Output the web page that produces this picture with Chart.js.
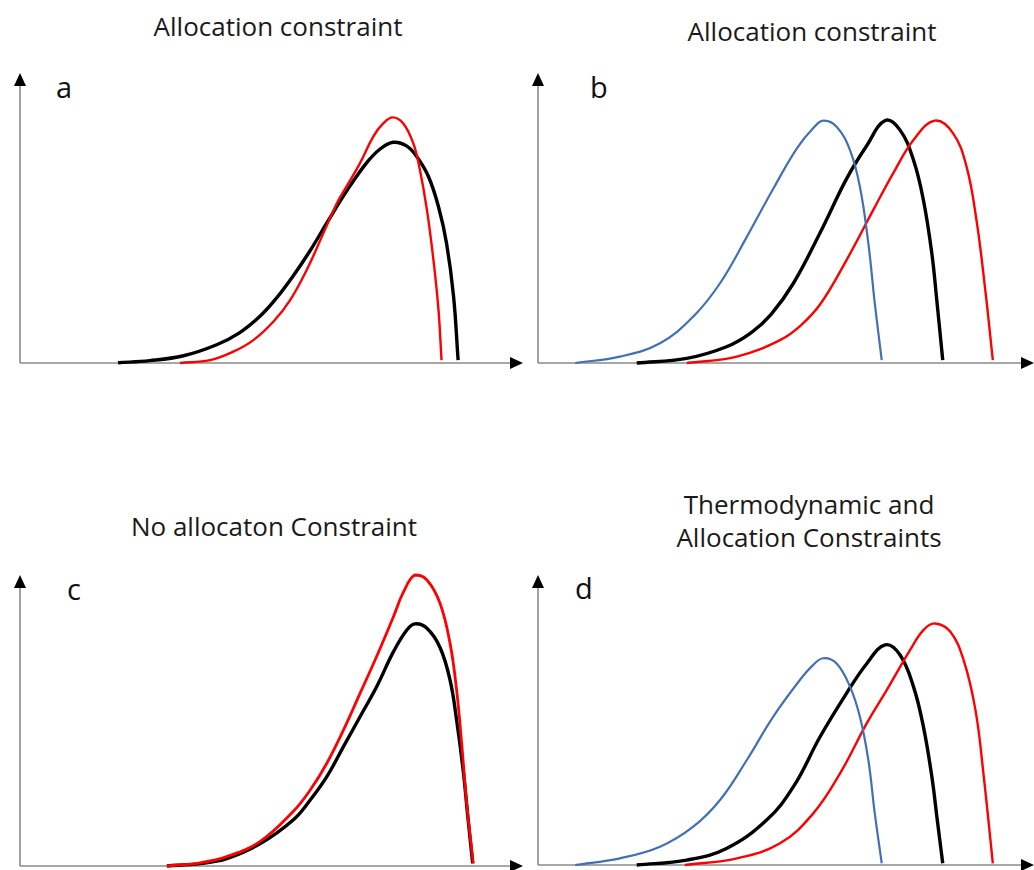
<!DOCTYPE html>
<html>
<head>
<meta charset="utf-8">
<script src="https://cdn.jsdelivr.net/npm/chart.js@4.4.1/dist/chart.umd.min.js"></script>
<style>
    html, body { margin: 0; padding: 0; background: #fff; overflow: hidden; }
    body { width: 1034px; height: 870px; position: relative; font-family: "Open Sans", "Noto Sans", sans-serif; }
    canvas { position: absolute; }
    .title { position: absolute; color: #1a1a1a; font-size: 26px; line-height: 33px; text-align: center; white-space: nowrap; width: 340px; }
    .tag { position: absolute; color: #111; font-size: 29px; line-height: 30px; }
</style>
</head>
<body>
<div class="title" style="left:108px; top:10px;">Allocation constraint</div>
<div class="title" style="left:642px; top:15px;">Allocation constraint</div>
<div class="title" style="left:104px; top:510px;">No allocaton Constraint</div>
<div class="title" style="left:639px; top:488px;">Thermodynamic and<br>Allocation Constraints</div>
<div class="tag" style="left:56px; top:72px;">a</div>
<div class="tag" style="left:590px; top:72px;">b</div>
<div class="tag" style="left:67px; top:574px;">c</div>
<div class="tag" style="left:575px; top:573px;">d</div>

<canvas id="chartA"></canvas>
<canvas id="chartB"></canvas>
<canvas id="chartC"></canvas>
<canvas id="chartD"></canvas>

<script>
// Curves are given as x/y pairs on a 0-100 scale for both axes

// Panel a
const aBlackX = [19.5, 25.8, 32.5, 39.1, 43.7, 47.7, 51, 54.3, 57.7, 61, 64.9, 68.9, 71.6, 74.2, 76.9, 78.9, 81.2, 83.2, 84.8, 86.2, 87.1];
const aBlackY = [0.1, 0.8, 2.5, 6.3, 10.5, 16.1, 22.4, 30, 38.8, 48.3, 59.2, 69, 73.8, 76.1, 74.8, 71.1, 64.3, 53.9, 41.3, 22.9, 1];
const aRedX = [31.8, 37.8, 42.4, 46.4, 50.4, 53.7, 57, 60.3, 63, 64.9, 67.6, 70.2, 72.2, 74.1, 76.2, 78.2, 79.5, 80.9, 82.2, 83.2, 83.8];
const aRedY = [0, 1, 3.9, 7.9, 14.3, 21.7, 32.1, 44.7, 55.1, 60.8, 68.9, 78, 82.6, 84.7, 82.6, 75.7, 66.6, 52.8, 35.5, 18.3, 1];

// Panel b
const bBlueX = [7.5, 16.5, 24.6, 31.3, 36.7, 42.1, 47.4, 52.2, 55.5, 57.5, 60.2, 62.9, 64.9, 66.6, 67.9, 69.3];
const bBlueY = [0, 2.2, 6.8, 16, 27.5, 43.5, 60, 74, 81, 83.6, 81.5, 73.4, 60.8, 41.3, 20.6, 1];
const bBlackX = [19.9, 30, 38, 43, 47, 51.5, 56.9, 62.2, 66.3, 70, 73, 75.7, 77.7, 79.4, 80.4, 81.6];
const bBlackY = [0, 1.6, 5.6, 10.5, 16.8, 27.5, 45, 63.5, 75, 83.6, 80.3, 70, 56.2, 37.8, 21.7, 1];
const bRedX = [30, 40.1, 48.8, 53, 57, 62.2, 67.6, 71.6, 75.7, 80, 83.7, 86.4, 88.4, 90.1, 91.7];
const bRedY = [0, 2.2, 7.9, 13, 20.5, 35.5, 52.8, 65.4, 76.9, 83.6, 79.2, 67.7, 49.3, 26.3, 1];

// Panel c
const cBlackX = [29.2, 35.8, 41.1, 47.7, 54.3, 57.7, 61, 64.3, 67.6, 70.9, 74.2, 76.9, 78.5, 80.9, 83.5, 85.5, 86.8, 88.1, 89.1, 90];
const cBlackY = [0, 0.8, 2.5, 7.6, 15.8, 22.7, 30.7, 41, 51.3, 61.6, 73.5, 81.1, 83.2, 81.7, 75.1, 63.9, 50.2, 33, 15.8, 0.9];
const cRedX = [29.2, 35.8, 41.1, 47.7, 54.3, 57.7, 61, 64.3, 67.6, 70.9, 74.2, 76.2, 78.5, 80.9, 83.5, 85.5, 86.8, 87.8, 88.8, 90.1];
const cRedY = [0, 1.1, 3.2, 8.4, 18.7, 26.1, 35.3, 46.7, 59.3, 72, 85.5, 94, 100, 98.3, 90.3, 76.5, 60.5, 42.2, 21.5, 0.9];

// Panel d
const dBlueX = [7.5, 16.5, 24.6, 31.3, 36.7, 42.1, 47.4, 52.8, 55.5, 57.5, 60.2, 62.9, 64.9, 66.6, 67.9, 69.3];
const dBlueY = [0, 2.3, 6.3, 13.2, 22.4, 36.2, 51.1, 63.8, 69, 71.3, 69.5, 61.5, 51.1, 36.2, 17.8, 0.6];
const dBlackX = [19.9, 30, 38, 46.1, 51.5, 56.9, 62.2, 66.3, 70, 73, 75.7, 77.7, 79.4, 80.5, 81.6];
const dBlackY = [0, 1.7, 5.7, 15.5, 27, 44.3, 59.2, 69.5, 75.9, 72.4, 61.5, 47.7, 30.5, 15.5, 0.6];
const dRedX = [29.6, 40.1, 48.8, 55.5, 60.9, 66.3, 70.3, 75, 77.7, 80, 83.1, 85.8, 88.2, 89.8, 91.7];
const dRedY = [0, 2.3, 7.5, 17.8, 31.6, 48.9, 60.3, 74.1, 81, 83.3, 80.5, 70.7, 53.4, 31.6, 0.6];

const BLACK = '#000000';
const RED = '#ff0000';
const BLUE = '#4170b4';

const PAD = 14;

function toPoints(xs, ys) {
    return xs.map((x, i) => ({ x: x, y: ys[i] }));
}

function curve(xs, ys, color, width) {
    return {
        data: toPoints(xs, ys),
        borderColor: color,
        borderWidth: width,
        pointRadius: 0,
        tension: 0.4,
        fill: false,
        clip: false
    };
}

// Grey axes with black arrowheads, drawn under the curves
const arrowAxes = {
    id: 'arrowAxes',
    beforeDatasetsDraw(chart) {
        const { ctx, chartArea: { left, right, top, bottom } } = chart;
        const len = 13, half = 6;
        ctx.save();
        ctx.strokeStyle = '#8a8a8a';
        ctx.lineWidth = 1.6;
        ctx.beginPath();
        ctx.moveTo(left, bottom);
        ctx.lineTo(left, top + len - 1);
        ctx.moveTo(left, bottom);
        ctx.lineTo(right - len + 1, bottom);
        ctx.stroke();

        ctx.fillStyle = '#000';
        ctx.beginPath();
        ctx.moveTo(left, top);
        ctx.lineTo(left - half, top + len);
        ctx.lineTo(left + half, top + len);
        ctx.closePath();
        ctx.fill();

        ctx.beginPath();
        ctx.moveTo(right, bottom);
        ctx.lineTo(right - len, bottom - half);
        ctx.lineTo(right - len, bottom + half);
        ctx.closePath();
        ctx.fill();
        ctx.restore();
    }
};

function makePanel(id, box, datasets) {
    const canvas = document.getElementById(id);
    canvas.width = box.width + 2 * PAD;
    canvas.height = box.height + 2 * PAD;
    canvas.style.left = (box.left - PAD) + 'px';
    canvas.style.top = (box.top - PAD) + 'px';

    return new Chart(canvas.getContext('2d'), {
        type: 'line',
        data: { datasets: datasets },
        options: {
            responsive: false,
            animation: false,
            devicePixelRatio: 1,
            layout: { padding: PAD },
            plugins: {
                legend: { display: false },
                tooltip: { enabled: false },
                title: { display: false }
            },
            scales: {
                x: { type: 'linear', min: 0, max: 100, display: false },
                y: { type: 'linear', min: 0, max: 100, display: false }
            }
        },
        plugins: [arrowAxes]
    });
}

makePanel('chartA', { left: 20, top: 73, width: 503, height: 290 }, [
    curve(aRedX, aRedY, RED, 2.4),
    curve(aBlackX, aBlackY, BLACK, 3.4)
]);

makePanel('chartB', { left: 538, top: 73, width: 496, height: 290 }, [
    curve(bBlueX, bBlueY, BLUE, 2.2),
    curve(bRedX, bRedY, RED, 2.4),
    curve(bBlackX, bBlackY, BLACK, 3.4)
]);

makePanel('chartC', { left: 20, top: 575, width: 503, height: 291 }, [
    curve(cRedX, cRedY, RED, 2.8),
    curve(cBlackX, cBlackY, BLACK, 3.4)
]);

makePanel('chartD', { left: 538, top: 575, width: 496, height: 290 }, [
    curve(dBlueX, dBlueY, BLUE, 2.2),
    curve(dRedX, dRedY, RED, 2.4),
    curve(dBlackX, dBlackY, BLACK, 3.4)
]);
</script>
</body>
</html>
